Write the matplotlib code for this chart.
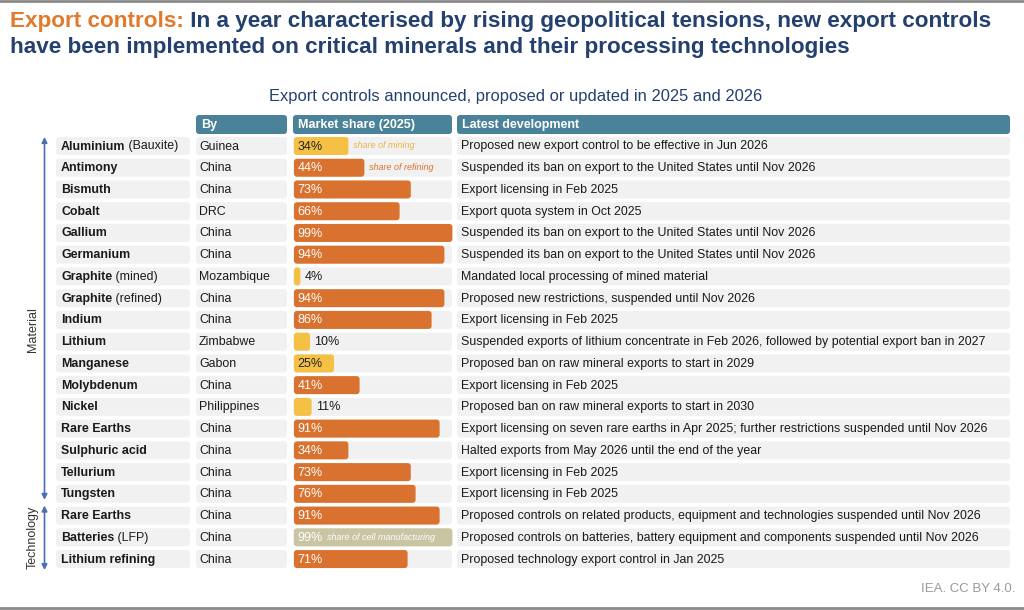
import numpy as np
import matplotlib
matplotlib.use("Agg")
import matplotlib.pyplot as plt
from matplotlib.patches import FancyBboxPatch

plt.rcParams['font.family'] = ['Liberation Sans', 'DejaVu Sans']

# ---- data ----
materials = ["Aluminium", "Antimony", "Bismuth", "Cobalt", "Gallium", "Germanium",
             "Graphite", "Graphite", "Indium", "Lithium", "Manganese", "Molybdenum",
             "Nickel", "Rare Earths", "Sulphuric acid", "Tellurium", "Tungsten",
             "Rare Earths", "Batteries", "Lithium refining"]
qualifiers = ["(Bauxite)", "", "", "", "", "", "(mined)", "(refined)", "", "", "", "",
              "", "", "", "", "", "", "(LFP)", ""]
countries = ["Guinea", "China", "China", "DRC", "China", "China", "Mozambique", "China",
             "China", "Zimbabwe", "Gabon", "China", "Philippines", "China", "China",
             "China", "China", "China", "China", "China"]
shares = [34, 44, 73, 66, 99, 94, 4, 94, 86, 10, 25, 41, 11, 91, 34, 73, 76, 91, 99, 71]
share_type = ["mining", "refining", "refining", "refining", "refining", "refining",
              "mining", "refining", "refining", "mining", "mining", "refining",
              "mining", "refining", "refining", "refining", "refining", "refining",
              "cell", "refining"]
developments = [
    "Proposed new export control to be effective in Jun 2026",
    "Suspended its ban on export to the United States until Nov 2026",
    "Export licensing in Feb 2025",
    "Export quota system in Oct 2025",
    "Suspended its ban on export to the United States until Nov 2026",
    "Suspended its ban on export to the United States until Nov 2026",
    "Mandated local processing of mined material",
    "Proposed new restrictions, suspended until Nov 2026",
    "Export licensing in Feb 2025",
    "Suspended exports of lithium concentrate in Feb 2026, followed by potential export ban in 2027",
    "Proposed ban on raw mineral exports to start in 2029",
    "Export licensing in Feb 2025",
    "Proposed ban on raw mineral exports to start in 2030",
    "Export licensing on seven rare earths in Apr 2025; further restrictions suspended until Nov 2026",
    "Halted exports from May 2026 until the end of the year",
    "Export licensing in Feb 2025",
    "Export licensing in Feb 2025",
    "Proposed controls on related products, equipment and technologies suspended until Nov 2026",
    "Proposed controls on batteries, battery equipment and components suspended until Nov 2026",
    "Proposed technology export control in Jan 2025",
]
n_material = 17  # first 17 rows are materials, the rest technology

# ---- style ----
ORANGE = "#D9722E"
YELLOW = "#F4C145"
TAN = "#C9C4A2"
TEAL = "#4A8399"
CELL = "#F1F1F1"
NAVY = "#24406E"
ARROW = "#4671B3"
TXT = "#1a1a1a"
FS = 8.9
bar_colors = {"mining": YELLOW, "refining": ORANGE, "cell": TAN}
label_colors = {"mining": "#222222", "refining": "white", "cell": "white"}

fig = plt.figure(figsize=(10.24, 6.1), dpi=100)
ax = fig.add_axes([0, 0, 1, 1])
ax.set_xlim(0, 1024)
ax.set_ylim(610, 0)
ax.axis('off')

# frame lines top and bottom
ax.plot([0, 1024], [1, 1], color="#8a8a8a", lw=2)
ax.plot([0, 1024], [608, 608], color="#8a8a8a", lw=2)

# title
TS = 16.2
t1 = ax.text(10, 21, "Export controls:", color="#E07A2C", fontsize=TS,
             fontweight='bold', va='center')
ax.annotate(" In a year characterised by rising geopolitical tensions, new export controls",
            xy=(1, 0.5), xycoords=t1, va='center', color=NAVY, fontsize=TS,
            fontweight='bold')
ax.text(10, 47, "have been implemented on critical minerals and their processing technologies",
        color=NAVY, fontsize=TS, fontweight='bold', va='center')
ax.text(516, 96, "Export controls announced, proposed or updated in 2025 and 2026",
        color=NAVY, fontsize=11.9, ha='center', va='center')

# columns (pixel extents)
col_name = (56, 190)
col_by = (196, 287)
col_share = (293, 452)
col_dev = (457, 1010)

row0, dy, cell_h = 146, 21.74, 18

def rbox(x0, x1, yc, h, color):
    ax.add_patch(FancyBboxPatch((x0, yc - h / 2), x1 - x0, h,
                                boxstyle="round,pad=0,rounding_size=3",
                                fc=color, ec='none'))

# header
head_y = 124.5
for (x0, x1), label in [(col_by, "By"), (col_share, "Market share (2025)"),
                        (col_dev, "Latest development")]:
    rbox(x0, x1, head_y, 19, TEAL)
    ax.text(x0 + 5, head_y + 0.5, label, color="white", fontsize=9, fontweight='bold', va='center')

# rows
for i in range(len(materials)):
    yc = row0 + i * dy
    for x0, x1 in (col_name, col_by, col_share, col_dev):
        rbox(x0, x1, yc, cell_h, CELL)
    ty = yc + 0.5
    nt = ax.text(61, ty, materials[i], fontsize=FS, fontweight='bold', va='center', color=TXT)
    if qualifiers[i]:
        ax.annotate(" " + qualifiers[i], xy=(1, 0.5), xycoords=nt, va='center',
                    fontsize=FS, color=TXT)
    ax.text(199, ty, countries[i], fontsize=FS, va='center', color=TXT)
    ax.text(461, ty, developments[i], fontsize=FS, va='center', color=TXT)

# arrows for groups
mat_top = row0 - cell_h / 2
mat_bot = row0 + (n_material - 1) * dy + cell_h / 2 - 3
tech_top = row0 + n_material * dy - cell_h / 2 - 1
tech_bot = row0 + (len(materials) - 1) * dy + cell_h / 2 + 2
for top, bot in ((mat_top, mat_bot), (tech_top, tech_bot)):
    ax.annotate('', xy=(44.5, top), xytext=(44.5, bot),
                arrowprops=dict(arrowstyle='<|-|>', color=ARROW, lw=1.2,
                                mutation_scale=8, shrinkA=0, shrinkB=0))
ax.text(33, 330, "Material", rotation=90, fontsize=9, va='center', ha='center', color="#333333")
ax.text(33, 537, "Technology", rotation=90, fontsize=9, va='center', ha='center', color="#333333")

# source
ax.text(1015, 589, "IEA. CC BY 4.0.", fontsize=9.5, ha='right', va='center', color="#9a9a9a")

# ---- bar axes: market share in % ----
bar_x0, bar_px = 294, 160  # left edge and width of 100 %
y_top = row0 - 0.5 * dy
y_bot = row0 + (len(materials) - 0.5) * dy
bx = fig.add_axes([bar_x0 / 1024, 1 - y_bot / 610, bar_px / 1024, (y_bot - y_top) / 610])
bx.set_xlim(0, 100)
bx.set_ylim(len(materials) - 0.5, -0.5)
bx.axis('off')

bar_h = cell_h / dy
r_x = 3 / (bar_px / 100)
aspect = (3 / dy) / r_x
for i, (s, k) in enumerate(zip(shares, share_type)):
    bx.add_patch(FancyBboxPatch((0, i - bar_h / 2), s, bar_h,
                                boxstyle="round,pad=0,rounding_size=%.3f" % r_x,
                                mutation_aspect=aspect, fc=bar_colors[k], ec='none'))
    if s >= 20:
        bx.annotate("%d%%" % s, xy=(0, i), xytext=(2.5, -0.4), textcoords='offset points',
                    va='center', fontsize=9, color=label_colors[k])
    else:
        bx.annotate("%d%%" % s, xy=(s, i), xytext=(3, -0.4), textcoords='offset points',
                    va='center', fontsize=9, color=TXT)

bx.annotate("share of mining", xy=(shares[0], 0), xytext=(3, 0), textcoords='offset points',
            va='center', fontsize=6.5, style='italic', color="#EAB345")
bx.annotate("share of refining", xy=(shares[1], 1), xytext=(3, 0), textcoords='offset points',
            va='center', fontsize=6.5, style='italic', color=ORANGE)
bx.annotate("share of cell manufacturing", xy=(0, 18), xytext=(24, 0), textcoords='offset points',
            va='center', fontsize=6.5, style='italic', color="white")

fig.savefig("out.png", dpi=100)
